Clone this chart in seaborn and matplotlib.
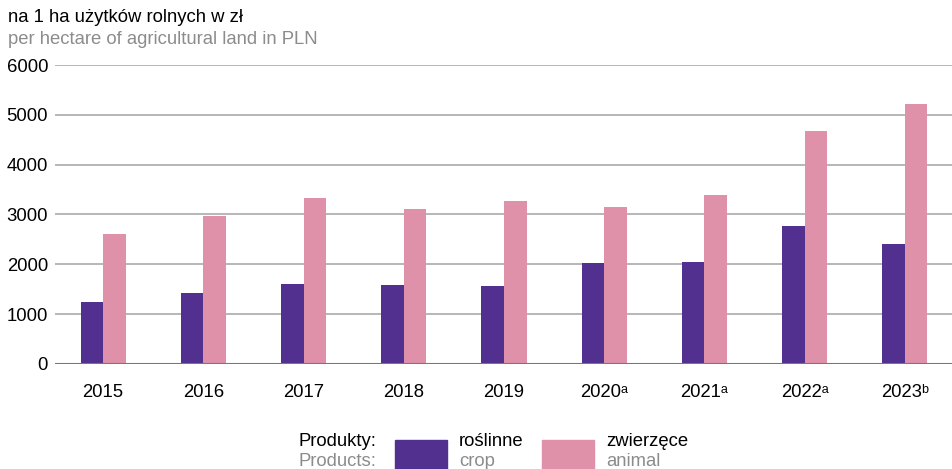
import matplotlib
matplotlib.use("Agg")
import matplotlib.pyplot as plt
from matplotlib.patches import Rectangle
import seaborn as sns
import pandas as pd

years = ["2015", "2016", "2017", "2018", "2019", "2020ᵃ", "2021ᵃ", "2022ᵃ", "2023ᵇ"]
crop = [1243, 1423, 1603, 1583, 1563, 2030, 2038, 2766, 2399]
animal = [2605, 2966, 3327, 3106, 3267, 3146, 3387, 4669, 5216]
series = ["roślinne", "zwierzęce"]
series_en = ["crop", "animal"]
colors = ["#52308f", "#e091aa"]

df = pd.DataFrame({
    "year": years * 2,
    "value": crop + animal,
    "series": [series[0]] * len(years) + [series[1]] * len(years),
})

sns.set_theme(style="white")
plt.rcParams["font.family"] = ["Liberation Sans", "DejaVu Sans"]

fs = 13.3
fig = plt.figure(figsize=(9.53, 4.69), dpi=100)
ax = fig.add_axes([0.0577, 0.2239, 0.9423, 0.6375])

sns.barplot(data=df, x="year", y="value", hue="series", palette=colors,
            width=0.45, gap=0, ax=ax, legend=False, saturation=1,
            edgecolor="none")

ax.set_ylim(0, 6000)
ax.set_xlim(-0.48, 8.48)
ax.set_yticks(range(0, 6001, 1000))
ax.set_xlabel("")
ax.set_ylabel("")
for v in range(1000, 6001, 1000):
    ax.axhline(v, color="#aaaaaa", lw=1.2, zorder=0)
ax.axhline(0, color="#777777", lw=1.5, zorder=3)
for s in ax.spines.values():
    s.set_visible(False)
ax.tick_params(axis="both", length=0, labelsize=fs, colors="black")
ax.tick_params(axis="y", pad=5)
ax.tick_params(axis="x", pad=23.5)
for lab in ax.get_xticklabels():
    lab.set_va("baseline")

fig.text(0.008, 1 - 18 / 469, "na 1 ha użytków rolnych w zł", fontsize=fs, color="black", va="center")
fig.text(0.008, 1 - 39 / 469, "per hectare of agricultural land in PLN", fontsize=fs, color="#8c8c8c", va="center")

# legend
fig.text(298 / 953, 1 - 441 / 469, "Produkty:", fontsize=fs, color="black", va="center")
fig.text(298 / 953, 1 - 461 / 469, "Products:", fontsize=fs, color="#8c8c8c", va="center")
for x0, col, pl, en in zip([395, 542], colors, series, series_en):
    fig.patches.append(Rectangle((x0 / 953, 0), 52 / 953, 29 / 469, color=col,
                                 transform=fig.transFigure, figure=fig))
    fig.text((x0 + 64) / 953, 1 - 441 / 469, pl, fontsize=fs, color="black", va="center")
    fig.text((x0 + 64) / 953, 1 - 461 / 469, en, fontsize=fs, color="#8c8c8c", va="center")

fig.savefig("out.png", dpi=100)
